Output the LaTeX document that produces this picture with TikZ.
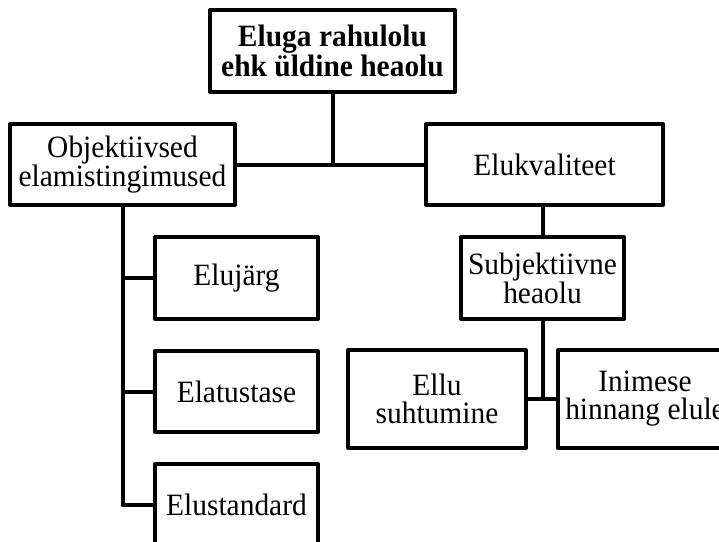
\documentclass[tikz,border=0pt]{standalone}
\usepackage{fontspec}
\setmainfont{Liberation Serif}[FakeStretch=0.95]
\begin{document}
\begin{tikzpicture}[x=1pt,y=-1pt,
  box/.style={draw, line width=4pt, line join=round, fill=white,
    inner sep=0pt, align=center, font=\fontsize{31}{28}\selectfont},
  link/.style={line width=4pt, line join=round}]
\useasboundingbox (0,0) rectangle (719,541);
\clip (0,0) rectangle (719,541);

% boxes
\node[box, minimum width=245pt, minimum height=82pt, font=\fontsize{31}{27}\selectfont\bfseries]
  (top) at (332.5,51) {Eluga rahulolu\\ehk üldine heaolu};
\node[box, minimum width=225pt, minimum height=81pt] (obj) at (122.5,164.5)
  {Objektiivsed\\elamistingimused};
\node[box, minimum width=237pt, minimum height=81pt] (eluk) at (544.5,164.5) {Elukvaliteet};
\node[box, minimum width=163pt, minimum height=82pt] (subj) at (542.5,278)
  {Subjektiivne\\heaolu};
\node[box, minimum width=178pt, minimum height=98pt] (ellu) at (437,399)
  {Ellu\\suhtumine};
\node[box, minimum width=174pt, minimum height=98pt] (inim) at (645,399)
  {Inimese\\hinnang elule};
\node[box, minimum width=163pt, minimum height=82pt] (eluj) at (236.5,278) {Elujärg};
\node[box, minimum width=163pt, minimum height=81pt] (elat) at (236.5,391.5) {Elatustase};
\node[box, minimum width=163pt, minimum height=82pt] (elus) at (236.5,505) {Elustandard};

% connectors
\draw[link] (top.south) -- (top.south |- obj.east);
\draw[link] (obj.east) -- (eluk.west);
\draw[link] (subj.north |- eluk.south) -- (subj.north);
\draw[link] (subj.south) -- (subj.south |- ellu.east);
\draw[link] (ellu.east) -- (inim.west);
\draw[link] (obj.south) |- (elus.west);
\draw[link] (obj.south |- eluj.west) -- (eluj.west);
\draw[link] (obj.south |- elat.west) -- (elat.west);
\end{tikzpicture}
\end{document}
